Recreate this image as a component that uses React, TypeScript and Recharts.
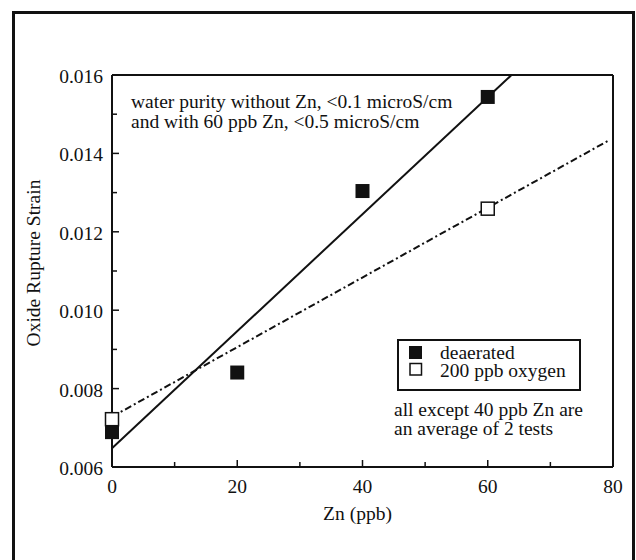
import { ScatterChart, Scatter, XAxis, YAxis, Legend } from 'recharts';

const deaerated = [
  { x: 0, y: 0.00689 },
  { x: 20, y: 0.00841 },
  { x: 40, y: 0.01304 },
  { x: 60, y: 0.01544 },
];
const oxygen = [
  { x: 0, y: 0.00722 },
  { x: 60, y: 0.01259 },
];

// fitted lines, end points as drawn
const deaeratedFit = [
  { x: 0, y: 0.00648 },
  { x: 63.8, y: 0.016 },
];
const oxygenFit = [
  { x: 0, y: 0.00728 },
  { x: 79.2, y: 0.01432 },
];

const xTicks = [0, 10, 20, 30, 40, 50, 60, 70, 80];
const xLabelTicks = [0, 20, 40, 60, 80];
const yTicks = [0.006, 0.007, 0.008, 0.009, 0.01, 0.011, 0.012, 0.013, 0.014, 0.015, 0.016];
const yLabelTicks = [0.006, 0.008, 0.01, 0.012, 0.014, 0.016];

const seriesNames = ['deaerated', '200 ppb oxygen'];
const noteTop = ['water purity without Zn, <0.1 microS/cm', 'and with 60 ppb Zn, <0.5 microS/cm'];
const noteBottom = ['all except 40 ppb Zn are', 'an average of 2 tests'];

const INK = '#111';
const FS = 19.5;
const txt = { fontFamily: 'Liberation Serif, Times New Roman, serif', fontSize: FS, fill: INK };

const isMajorX = (v: number) => xLabelTicks.includes(v);
const isMajorY = (v: number) => yLabelTicks.some((t) => Math.abs(t - v) < 1e-9);

function BottomTick(p: any) {
  const v = p.payload.value;
  const major = isMajorX(v);
  return (
    <g>
      <line x1={p.x} x2={p.x} y1={p.y} y2={p.y - (major ? 7 : 5)} stroke={INK} strokeWidth={1.5} />
      {major && (
        <text x={p.x} y={p.y + 26} textAnchor="middle" style={txt}>
          {v}
        </text>
      )}
    </g>
  );
}

function TopTick(p: any) {
  const major = isMajorX(p.payload.value);
  return <line x1={p.x} x2={p.x} y1={p.y} y2={p.y + (major ? 7 : 5)} stroke={INK} strokeWidth={1.5} />;
}

function LeftTick(p: any) {
  const v = p.payload.value;
  const major = isMajorY(v);
  return (
    <g>
      <line x1={p.x} x2={p.x + (major ? 7 : 5)} y1={p.y} y2={p.y} stroke={INK} strokeWidth={1.5} />
      {major && (
        <text x={p.x - 9} y={p.y + 8} textAnchor="end" style={txt}>
          {v.toFixed(3)}
        </text>
      )}
    </g>
  );
}

function RightTick(p: any) {
  const major = isMajorY(p.payload.value);
  return <line x1={p.x} x2={p.x - (major ? 7 : 5)} y1={p.y} y2={p.y} stroke={INK} strokeWidth={1.5} />;
}

function YTitle({ viewBox }: any) {
  const x = viewBox.x + 40;
  const y = viewBox.y + viewBox.height / 2 - 8;
  return (
    <text x={x} y={y} transform={`rotate(-90 ${x} ${y})`} textAnchor="middle" style={txt}>
      Oxide Rupture Strain
    </text>
  );
}

function XTitle({ viewBox }: any) {
  return (
    <text x={viewBox.x + viewBox.width / 2 - 5} y={viewBox.y + 53} textAnchor="middle" style={txt}>
      Zn (ppb)
    </text>
  );
}

const filledSquare = (p: any) => <rect x={p.cx - 7} y={p.cy - 7} width={14} height={14} fill={INK} />;
const openSquare = (p: any) => (
  <rect x={p.cx - 6.5} y={p.cy - 6.5} width={13} height={13} fill="#fff" stroke={INK} strokeWidth={1.5} />
);
const noShape = () => <g />;

function LegendBox() {
  return (
    <svg width={184} height={52} style={{ display: 'block' }}>
      <rect x={1} y={1} width={182} height={50} fill="#fff" stroke={INK} strokeWidth={2} />
      <rect x={12} y={7} width={13} height={13} fill={INK} />
      <rect x={13} y={24.5} width={11.5} height={11.5} fill="#fff" stroke={INK} strokeWidth={1.5} />
      <text x={43} y={20} style={txt}>{seriesNames[0]}</text>
      <text x={43} y={37.5} style={txt}>{seriesNames[1]}</text>
    </svg>
  );
}

export default function App() {
  return (
    <div style={{ position: 'absolute', left: 0, top: 0, width: 636, height: 560, background: '#fff', overflow: 'hidden' }}>
      <div
        style={{
          position: 'absolute',
          left: 12,
          top: 11,
          width: 623,
          height: 620,
          border: `3px solid ${INK}`,
          boxSizing: 'border-box',
        }}
      />
      <div style={{ position: 'absolute', left: 0, top: 0 }}>
        <ScatterChart width={636} height={560} margin={{ top: 74, right: 22, bottom: 33, left: 0 }}>
          <XAxis
            xAxisId="bottom"
            type="number"
            dataKey="x"
            domain={[0, 80]}
            ticks={xTicks}
            interval={0}
            height={60}
            tickSize={0}
            tickMargin={0}
            tickLine={false}
            tick={BottomTick}
            axisLine={{ stroke: INK, strokeWidth: 2 }}
            label={<XTitle />}
          />
          <XAxis
            xAxisId="top"
            orientation="top"
            type="number"
            dataKey="x"
            domain={[0, 80]}
            ticks={xTicks}
            interval={0}
            height={1}
            tickSize={0}
            tickMargin={0}
            tickLine={false}
            tick={TopTick}
            axisLine={{ stroke: INK, strokeWidth: 2 }}
          />
          <YAxis
            yAxisId="left"
            type="number"
            dataKey="y"
            domain={[0.006, 0.016]}
            ticks={yTicks}
            interval={0}
            width={112}
            tickSize={0}
            tickMargin={0}
            tickLine={false}
            tick={LeftTick}
            axisLine={{ stroke: INK, strokeWidth: 2 }}
            label={<YTitle />}
          />
          <YAxis
            yAxisId="right"
            orientation="right"
            type="number"
            dataKey="y"
            domain={[0.006, 0.016]}
            ticks={yTicks}
            interval={0}
            width={1}
            tickSize={0}
            tickMargin={0}
            tickLine={false}
            tick={RightTick}
            axisLine={{ stroke: INK, strokeWidth: 2 }}
          />
          <Legend
            layout="horizontal"
            verticalAlign="middle"
            align="center"
            content={() => <LegendBox />}
            wrapperStyle={{ position: 'absolute', left: 397, top: 339, width: 184, height: 52, bottom: 'auto', right: 'auto' }}
          />
          <Scatter
            xAxisId="bottom"
            yAxisId="left"
            data={deaeratedFit}
            line={{ stroke: INK, strokeWidth: 2 }}
            shape={noShape}
            legendType="none"
            isAnimationActive={false}
          />
          <Scatter
            xAxisId="bottom"
            yAxisId="left"
            data={oxygenFit}
            line={{ stroke: INK, strokeWidth: 2, strokeDasharray: '7 3 2 3' }}
            shape={noShape}
            legendType="none"
            isAnimationActive={false}
          />
          <Scatter
            name={seriesNames[0]}
            xAxisId="bottom"
            yAxisId="left"
            data={deaerated}
            shape={filledSquare}
            isAnimationActive={false}
          />
          <Scatter
            name={seriesNames[1]}
            xAxisId="bottom"
            yAxisId="left"
            data={oxygen}
            shape={openSquare}
            isAnimationActive={false}
          />
        </ScatterChart>
      </div>
      <svg width={636} height={560} style={{ position: 'absolute', left: 0, top: 0, pointerEvents: 'none' }}>
        {noteTop.map((t, i) => (
          <text key={t} x={131} y={108 + i * 20} style={txt}>
            {t}
          </text>
        ))}
        {noteBottom.map((t, i) => (
          <text key={t} x={394} y={416 + i * 18.5} style={txt}>
            {t}
          </text>
        ))}
      </svg>
    </div>
  );
}
